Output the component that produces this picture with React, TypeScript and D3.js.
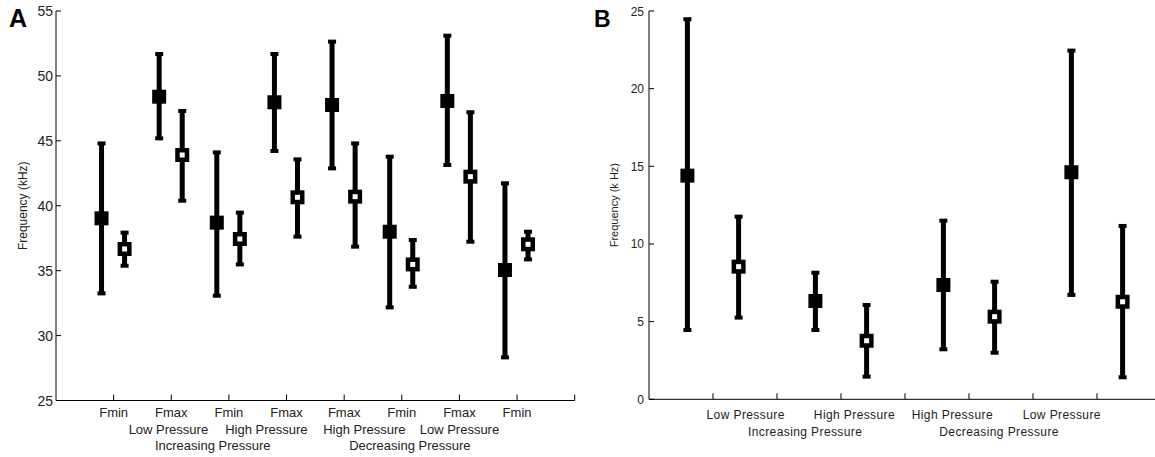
import React from "react";
import * as d3 from "d3";

// Panel A data
const tickLabelsA = ["Fmin", "Fmax", "Fmin", "Fmax", "Fmax", "Fmin", "Fmax", "Fmin"];
const filledMeanA = [39.03, 48.4, 38.7, 47.97, 47.76, 38.0, 48.07, 35.05];
const filledLowA = [33.25, 45.19, 33.07, 44.22, 42.88, 32.17, 43.14, 28.32];
const filledHighA = [44.8, 51.69, 44.11, 51.69, 52.64, 43.78, 53.1, 41.73];
const openMeanA = [36.67, 43.91, 37.44, 40.65, 40.7, 35.48, 42.24, 37.03];
const openLowA = [35.38, 40.39, 35.48, 37.62, 36.85, 33.76, 37.23, 35.87];
const openHighA = [37.93, 47.3, 39.47, 43.57, 44.8, 37.36, 47.2, 38.0];
const yTicksA = [25, 30, 35, 40, 45, 50, 55];
const pressureLabelsA = ["Low Pressure", "High Pressure", "High Pressure", "Low Pressure"];
const pressurePosA = [1.95, 3.65, 5.35, 7.0];
const directionLabelsA = ["Increasing Pressure", "Decreasing Pressure"];
const directionPosA = [2.72, 6.14];

// Panel B data
const filledMeanB = [14.4, 6.33, 7.36, 14.62];
const filledLowB = [4.46, 4.46, 3.22, 6.72];
const filledHighB = [24.47, 8.15, 11.5, 22.45];
const openMeanB = [8.54, 3.77, 5.32, 6.28];
const openLowB = [5.26, 1.46, 3.0, 1.42];
const openHighB = [11.76, 6.07, 7.57, 11.16];
const pairPosB = [1, 3, 5, 7];
const yTicksB = [0, 5, 10, 15, 20, 25];
const pressureLabelsB = ["Low Pressure", "High Pressure", "High Pressure", "Low Pressure"];
const pressurePosB = [1.51, 3.21, 4.74, 6.45];
const directionLabelsB = ["Increasing Pressure", "Decreasing Pressure"];
const directionPosB = [2.44, 5.47];

const FONT = "'Liberation Sans', Arial, sans-serif";
const TXT = "#222";

type ErrProps = { x: number; yMean: number; yLow: number; yHigh: number; open: boolean };

function ErrPoint({ x, yMean, yLow, yHigh, open }: ErrProps) {
  return (
    <g>
      <line x1={x} x2={x} y1={yLow} y2={yHigh} stroke="#000" strokeWidth={5} />
      <rect x={x - 4} y={yHigh - 2} width={8} height={4} fill="#000" />
      <rect x={x - 4} y={yLow - 2} width={8} height={4} fill="#000" />
      <rect x={x - 7} y={yMean - 7} width={14} height={14} fill="#000" />
      {open && <rect x={x - 2.5} y={yMean - 2.5} width={5} height={5} fill="#fff" />}
    </g>
  );
}

function PanelA() {
  const x = d3.scaleLinear().domain([0, 9]).range([56, 574.7]);
  const y = d3.scaleLinear().domain([25, 55]).range([400.5, 11]);
  const ticks = d3.range(1, 10);
  return (
    <g>
      <text x={9} y={27} fontFamily={FONT} fontWeight="bold" fontSize={25} fill="#000">A</text>
      <line x1={x(0)} x2={x(0)} y1={y(25)} y2={y(55)} stroke="#000" strokeWidth={1} />
      <line x1={x(0)} x2={x(9)} y1={y(25)} y2={y(25)} stroke="#000" strokeWidth={1} />
      {yTicksA.map((t) => (
        <g key={t}>
          <line x1={x(0)} x2={x(0) + 5} y1={y(t)} y2={y(t)} stroke="#000" />
          <text x={x(0) - 3} y={y(t) + 5} textAnchor="end" fontFamily={FONT} fontSize={14} fill={TXT}>{t}</text>
        </g>
      ))}
      {ticks.map((t) => (
        <line key={t} x1={x(t)} x2={x(t)} y1={y(25)} y2={y(25) - 6} stroke="#000" />
      ))}
      {tickLabelsA.map((l, i) => (
        <text key={i} x={x(i + 1)} y={417} textAnchor="middle" fontFamily={FONT} fontSize={13} fill={TXT}>{l}</text>
      ))}
      {pressureLabelsA.map((l, i) => (
        <text key={i} x={x(pressurePosA[i])} y={434} textAnchor="middle" fontFamily={FONT} fontSize={13} fill={TXT}>{l}</text>
      ))}
      {directionLabelsA.map((l, i) => (
        <text key={i} x={x(directionPosA[i])} y={450} textAnchor="middle" fontFamily={FONT} fontSize={13} fill={TXT}>{l}</text>
      ))}
      <text transform={`translate(27,${y(40)}) rotate(-90)`} textAnchor="middle" fontFamily={FONT} fontSize={12} fill={TXT}>Frequency (kHz)</text>
      {filledMeanA.map((m, i) => (
        <ErrPoint key={"f" + i} x={x(i + 1 - 0.21)} yMean={y(m)} yLow={y(filledLowA[i])} yHigh={y(filledHighA[i])} open={false} />
      ))}
      {openMeanA.map((m, i) => (
        <ErrPoint key={"o" + i} x={x(i + 1 + 0.19)} yMean={y(m)} yLow={y(openLowA[i])} yHigh={y(openHighA[i])} open={true} />
      ))}
    </g>
  );
}

function PanelB() {
  const x = d3.scaleLinear().domain([0, 8]).range([649, 1161]);
  const y = d3.scaleLinear().domain([0, 25]).range([399.3, 11]);
  const ticks = d3.range(1, 8);
  return (
    <g>
      <text x={594} y={27} fontFamily={FONT} fontWeight="bold" fontSize={23} fill="#000">B</text>
      <line x1={x(0)} x2={x(0)} y1={y(0)} y2={y(25)} stroke="#000" strokeWidth={1} />
      <line x1={x(0)} x2={x(8)} y1={y(0)} y2={y(0)} stroke="#000" strokeWidth={1} />
      {yTicksB.map((t) => (
        <g key={t}>
          <line x1={x(0)} x2={x(0) + 5} y1={y(t)} y2={y(t)} stroke="#000" />
          <text x={x(0) - 5} y={y(t) + 4.5} textAnchor="end" fontFamily={FONT} fontSize={12} fill={TXT}>{t}</text>
        </g>
      ))}
      {ticks.map((t) => (
        <line key={t} x1={x(t)} x2={x(t)} y1={y(0)} y2={y(0) - 6} stroke="#000" />
      ))}
      {pressureLabelsB.map((l, i) => (
        <text key={i} x={x(pressurePosB[i])} y={419} textAnchor="middle" fontFamily={FONT} fontSize={12} letterSpacing={0.4} fill={TXT}>{l}</text>
      ))}
      {directionLabelsB.map((l, i) => (
        <text key={i} x={x(directionPosB[i])} y={436} textAnchor="middle" fontFamily={FONT} fontSize={12} letterSpacing={0.4} fill={TXT}>{l}</text>
      ))}
      <text transform={`translate(618,${y(12.5)}) rotate(-90)`} textAnchor="middle" fontFamily={FONT} fontSize={11} fill={TXT}>Frequency (k Hz)</text>
      {filledMeanB.map((m, i) => (
        <ErrPoint key={"f" + i} x={x(pairPosB[i] - 0.4)} yMean={y(m)} yLow={y(filledLowB[i])} yHigh={y(filledHighB[i])} open={false} />
      ))}
      {openMeanB.map((m, i) => (
        <ErrPoint key={"o" + i} x={x(pairPosB[i] + 0.4)} yMean={y(m)} yLow={y(openLowB[i])} yHigh={y(openHighB[i])} open={true} />
      ))}
    </g>
  );
}

export default function App() {
  return (
    <svg
      width={1155}
      height={457}
      style={{ position: "absolute", left: 0, top: 0, background: "#fff" }}
    >
      <rect x={0} y={0} width={1155} height={457} fill="#fff" />
      <PanelA />
      <PanelB />
    </svg>
  );
}
